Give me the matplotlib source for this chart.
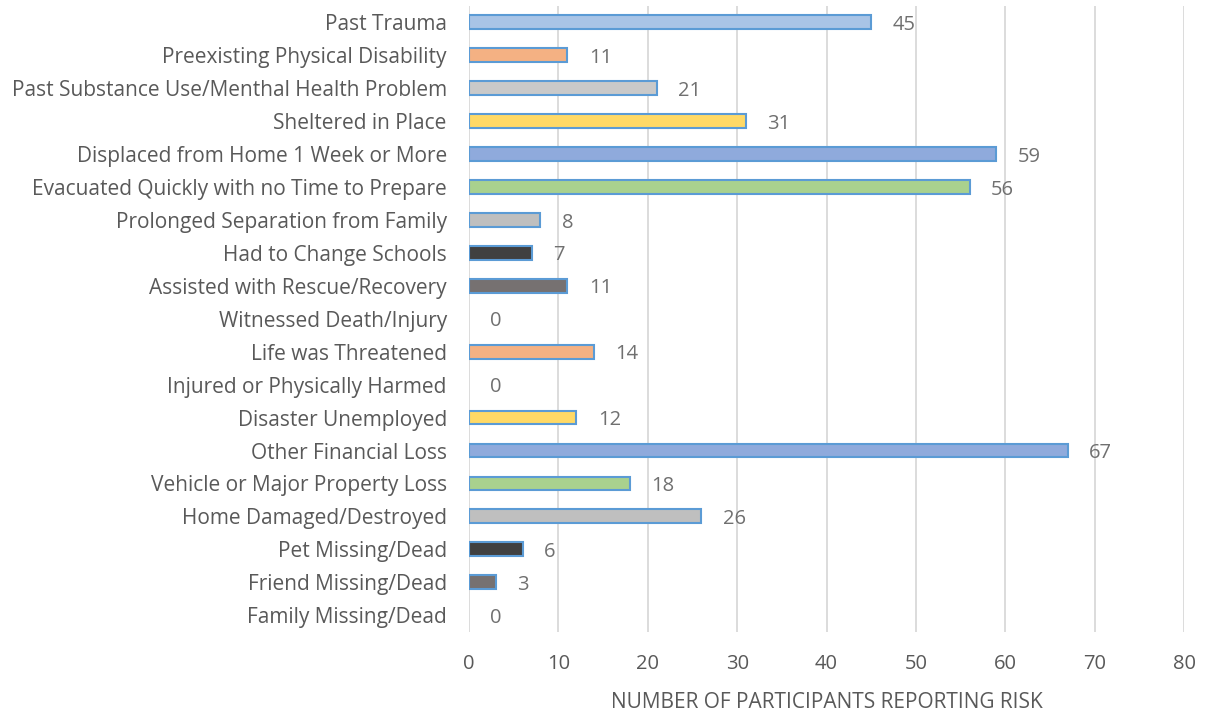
import matplotlib.pyplot as plt
import numpy as np

plt.rcParams['font.family'] = ['Open Sans', 'DejaVu Sans']

categories = [
    "Family Missing/Dead",
    "Friend Missing/Dead",
    "Pet Missing/Dead",
    "Home Damaged/Destroyed",
    "Vehicle or Major Property Loss",
    "Other Financial Loss",
    "Disaster Unemployed",
    "Injured or Physically Harmed",
    "Life was Threatened",
    "Witnessed Death/Injury",
    "Assisted with Rescue/Recovery",
    "Had to Change Schools",
    "Prolonged Separation from Family",
    "Evacuated Quickly with no Time to Prepare",
    "Displaced from Home 1 Week or More",
    "Sheltered in Place",
    "Past Substance Use/Menthal Health Problem",
    "Preexisting Physical Disability",
    "Past Trauma",
]
counts = [0, 3, 6, 26, 18, 67, 12, 0, 14, 0, 11, 7, 8, 56, 59, 31, 21, 11, 45]
colors = ["#A9C4E6", "#767171", "#404040", "#BFBFBF", "#A9D18E", "#8FAADC",
          "#FFD966", "#C9C9C9", "#F4B183", "#A9C4E6", "#767171", "#404040",
          "#BFBFBF", "#A9D18E", "#8FAADC", "#FFD966", "#C9C9C9", "#F4B183",
          "#A9C4E6"]

fig = plt.figure(figsize=(12.15, 7.13), dpi=100)
ax = fig.add_axes([0.386, 0.114, 0.5885, 0.878])

y = np.arange(len(categories))
widths = [1.5 if v > 0 else 0 for v in counts]
ax.barh(y, counts, height=0.42, color=colors, edgecolor="#5B9BD5", linewidth=widths, zorder=3)

for yi, v in zip(y, counts):
    ax.text(v + 2.4, yi - 0.08, str(v), va="center", ha="left", fontsize=14.5, color="#707070")

ax.set_xlim(0, 80)
ax.set_ylim(-0.5, len(categories) - 0.5)
ax.set_xticks(np.arange(0, 81, 10))
ax.set_yticks(y)
ax.set_yticklabels(categories)
ax.xaxis.grid(True, color="#D9D9D9", linewidth=1.3, zorder=0)
ax.tick_params(axis="both", length=0, colors="#595959")
ax.tick_params(axis="y", labelsize=15, pad=16)
ax.tick_params(axis="x", labelsize=14.5, pad=16)
for s in ax.spines.values():
    s.set_visible(False)
ax.set_xlabel("NUMBER OF PARTICIPANTS REPORTING RISK", fontsize=15, color="#595959", labelpad=13)

fig.savefig("out.png", dpi=100)
